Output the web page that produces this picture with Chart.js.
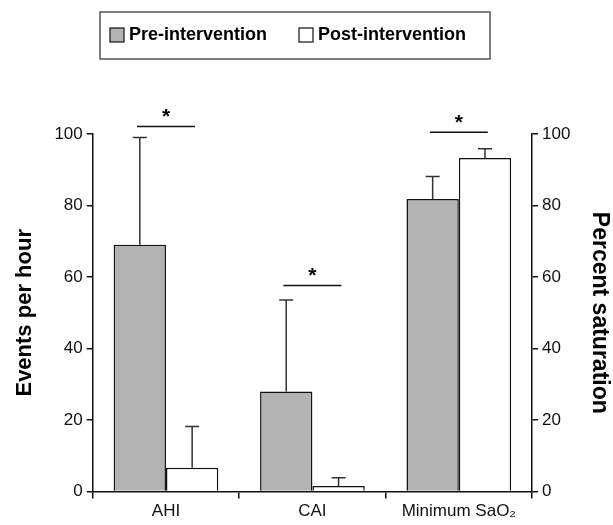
<!DOCTYPE html>
<html>
<head>
<meta charset="utf-8">
<script src="https://cdn.jsdelivr.net/npm/chart.js@4"></script>
<style>
html, body { margin: 0; padding: 0; background: #fff; }
#wrap { width: 613px; height: 525px; }
</style>
</head>
<body>
<div id="wrap"><canvas id="chart" width="613" height="525"></canvas></div>
<script>
// data
const categories = ["AHI", "CAI", "Minimum SaO₂"];
const preValues = [69, 28, 81.8];
const postValues = [6.7, 1.6, 93.3];
const preErrors = [30, 25.6, 6.3];
const postErrors = [11.5, 2.3, 2.6];
const sigLevels = [102.1, 57.6, 100.5];
const yTicks = [0, 20, 40, 60, 80, 100];

const FONT = "'Liberation Sans', Arial, sans-serif";
const INK = "#111";

// error bars (upper only)
const errorBars = {
    id: "errorBars",
    afterDatasetsDraw(chart) {
        const ctx = chart.ctx;
        const y = chart.scales.y;
        const errs = [preErrors, postErrors];
        ctx.save();
        ctx.strokeStyle = "#333";
        ctx.lineWidth = 1.5;
        chart.data.datasets.forEach((ds, di) => {
            const meta = chart.getDatasetMeta(di);
            meta.data.forEach((bar, i) => {
                const top = y.getPixelForValue(ds.data[i] + errs[di][i]);
                ctx.beginPath();
                ctx.moveTo(bar.x, bar.y);
                ctx.lineTo(bar.x, top);
                ctx.moveTo(bar.x - 7, top);
                ctx.lineTo(bar.x + 7, top);
                ctx.stroke();
            });
        });
        ctx.restore();
    }
};

// significance lines with asterisk
const sigMarks = {
    id: "sigMarks",
    afterDatasetsDraw(chart) {
        const ctx = chart.ctx;
        const x = chart.scales.x;
        const y = chart.scales.y;
        ctx.save();
        ctx.strokeStyle = "#111";
        ctx.fillStyle = "#000";
        ctx.lineWidth = 1.5;
        ctx.font = "bold 21px " + FONT;
        ctx.textAlign = "center";
        ctx.textBaseline = "alphabetic";
        sigLevels.forEach((lvl, i) => {
            const cx = x.getPixelForValue(i);
            const py = y.getPixelForValue(lvl);
            ctx.beginPath();
            ctx.moveTo(cx - 29, py);
            ctx.lineTo(cx + 29, py);
            ctx.stroke();
            const m = ctx.measureText("*");
            const mid = (m.actualBoundingBoxAscent - m.actualBoundingBoxDescent) / 2;
            ctx.fillText("*", cx, py - 13.5 + mid);
        });
        ctx.restore();
    }
};

// boxed legend at the top
const boxLegend = {
    id: "boxLegend",
    afterDraw(chart) {
        const ctx = chart.ctx;
        ctx.save();
        ctx.strokeStyle = "#555";
        ctx.lineWidth = 1.5;
        ctx.strokeRect(100, 12, 390, 47);
        ctx.font = "bold 18px " + FONT;
        ctx.textBaseline = "middle";
        ctx.textAlign = "left";
        const starts = [110, 299];
        chart.data.datasets.forEach((ds, i) => {
            const sx = starts[i];
            ctx.fillStyle = ds.backgroundColor;
            ctx.fillRect(sx, 28, 14, 14);
            ctx.strokeStyle = "#111";
            ctx.lineWidth = 1.2;
            ctx.strokeRect(sx, 28, 14, 14);
            ctx.fillStyle = "#000";
            ctx.fillText(ds.label, sx + 19, 35.5);
        });
        ctx.restore();
    }
};

function yAxis(position, title, titleSize, inner) {
    return {
        type: "linear",
        position: position,
        min: 0,
        max: 100,
        afterBuildTicks: scale => { scale.ticks = yTicks.map(v => ({ value: v })); },
        grid: { drawOnChartArea: false, tickLength: 6, color: "#111", lineWidth: 1.5 },
        border: { color: "#111", width: 1.5 },
        ticks: { font: { family: FONT, size: 17 }, color: INK, padding: 4 },
        title: {
            display: true,
            text: title,
            color: "#000",
            font: { family: FONT, size: titleSize, weight: "bold" },
            padding: { top: 0, bottom: inner }
        }
    };
}

new Chart(document.getElementById("chart"), {
    type: "bar",
    data: {
        labels: categories,
        datasets: [
            {
                label: "Pre-intervention",
                data: preValues,
                backgroundColor: "#b3b3b3",
                borderColor: "#111",
                borderWidth: 1.5,
                categoryPercentage: 0.715,
                barPercentage: 1
            },
            {
                label: "Post-intervention",
                data: postValues,
                backgroundColor: "#ffffff",
                borderColor: "#111",
                borderWidth: 1.5,
                categoryPercentage: 0.715,
                barPercentage: 1
            }
        ]
    },
    options: {
        responsive: false,
        animation: false,
        devicePixelRatio: 1,
        layout: { padding: { top: 134, left: 12, right: 0, bottom: 0 } },
        plugins: {
            legend: { display: false },
            tooltip: { enabled: false }
        },
        scales: {
            x: {
                offset: true,
                grid: { offset: true, drawOnChartArea: false, tickLength: 7, color: "#111", lineWidth: 1.5 },
                border: { color: "#111", width: 1.5 },
                ticks: { font: { family: FONT, size: 17 }, color: INK, padding: 3, maxRotation: 0 }
            },
            y: yAxis("left", "Events per hour", 22, 12),
            y1: yAxis("right", "Percent saturation", 23, 11)
        }
    },
    plugins: [errorBars, sigMarks, boxLegend]
});
</script>
</body>
</html>
